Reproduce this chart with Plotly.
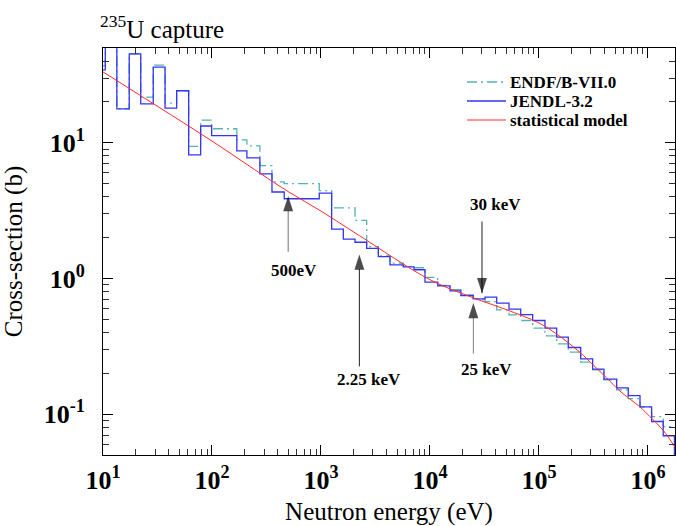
import numpy as np
import plotly.graph_objects as go

# Multigroup energy boundaries (eV)
group_edges = [10, 10.5, 13.4, 17.4, 22.2, 28.9, 37.1, 47.4, 61.1, 78.7,
               99.3, 169, 209, 275, 355, 460, 964, 1253, 1603, 2052,
               2625, 3358, 4297, 5690, 7130, 9000, 11780, 15250, 19230, 24930,
               31960, 40930, 53090, 67950, 87510, 113500, 145300, 185700, 241400, 310700,
               394500, 516000, 659600, 845000, 1.08e6, 1.38e6, 1.75e6]

# Group-averaged capture cross sections (b)
jendl_sigma = [34.5, 70, 17.8, 45.3, 19.4, 36.1, 18.0, 24.2, 8.16, 13.3,
               11.3, 8.73, 7.75, 5.91, 4.34, 3.87, 4.26, 2.31, 1.95, 1.85,
               1.67, 1.45, 1.26, 1.22, 1.16, 0.94, 0.883, 0.811, 0.749, 0.708,
               0.729, 0.659, 0.595, 0.541, 0.490, 0.430, 0.370, 0.310, 0.256, 0.215,
               0.181, 0.156, 0.137, 0.113, 0.0883, 0.0693]
jendl_tail = 0.04

endf_sigma = [36.9, 70, 17.8, 45.3, 21.7, 37.4, 19.6, 24.2, 9.4, 14.7,
              12.7, 10.5, 9.5, 6.8, 5.16, 5.0, 4.45, 3.32, 3.32, 2.68,
              1.72, 1.47, 1.30, 1.23, 1.20, 1.02, 0.89, 0.826, 0.755, 0.70,
              0.676, 0.587, 0.54, 0.49, 0.43, 0.378, 0.33, 0.287, 0.242, 0.212,
              0.179, 0.151, 0.130, 0.113, 0.096, 0.081]
endf_end_energy = 1.77e6

# Statistical-model curve
model_energy = [10, 100, 275, 500, 1000, 2250, 10000, 25000, 50000, 100000,
                145000, 238000, 315000, 418000, 553000, 845000, 1.04e6, 1.38e6, 1.77e6]
model_sigma = [33.3, 10.3, 5.98, 4.37, 3.14, 2.07, 0.98, 0.72, 0.59, 0.47,
               0.39, 0.285, 0.23, 0.185, 0.148, 0.113, 0.096, 0.076, 0.057]

# Marked energies with arrow tip / tail cross sections (b)
markers_label = ["500eV", "2.25 keV", "25 keV", "30 keV"]
markers_energy = [500, 2250, 25000, 30000]
markers_tip = [4.06, 1.50, 0.659, 0.78]
markers_tail = [1.575, 0.225, 0.279, 2.63]

# Axis ticks
x_decades = [1, 2, 3, 4, 5, 6]
y_decades = [-2, -1, 0, 1]
x_tickvals = [10.0 ** d for d in x_decades]
x_ticktext = ["10<sup>%d</sup>" % d for d in x_decades]
y_tickvals = [10.0 ** d for d in y_decades[1:]]
y_ticktext = ["10<sup>%d</sup>" % d for d in y_decades[1:]]
x_minor = [m * 10.0 ** d for d in x_decades for m in range(2, 10)]
y_minor = [m * 10.0 ** d for d in y_decades for m in range(2, 10)]

series_names = ["ENDF/B-VII.0", "JENDL-3.2", "statistical model"]
series_colors = ["#55b3b3", "#3434f4", "#ff2a2a"]
series_dash = ["10px,4px,2px,4px", "solid", "solid"]
series_width = [1.3, 1.3, 1.0]

FONT = "Liberation Serif"
W, H = 676, 526
L, R, T, B = 103, 1, 48, 71
plot_w, plot_h = W - L - R, H - T - B

fig = go.Figure()

# ENDF/B-VII.0 step histogram
fig.add_trace(go.Scatter(
    x=group_edges[:-1] + [endf_end_energy],
    y=endf_sigma + [endf_sigma[-1]],
    mode="lines", line_shape="hv", name=series_names[0],
    line=dict(color=series_colors[0], width=series_width[0], dash=series_dash[0]),
    showlegend=False))

# JENDL-3.2 step histogram
fig.add_trace(go.Scatter(
    x=group_edges[:-1] + [group_edges[-1]],
    y=jendl_sigma + [jendl_tail],
    mode="lines", line_shape="hv", name=series_names[1],
    line=dict(color=series_colors[1], width=series_width[1]),
    showlegend=False))

# statistical model
fig.add_trace(go.Scatter(
    x=model_energy, y=model_sigma, mode="lines", line_shape="spline",
    name=series_names[2],
    line=dict(color=series_colors[2], width=series_width[2]),
    showlegend=False))

# arrows marking the energies
text_offsets = [(6, -19), (10, -13), (13, -16), (14, 17)]
shaft_colors = ["#707070", "#202020", "#808080", "#202020"]
for lab, e, tip, tail, (dx, dy), sc in zip(markers_label, markers_energy, markers_tip,
                                           markers_tail, text_offsets, shaft_colors):
    up = tip > tail
    fig.add_trace(go.Scatter(
        x=[e, e], y=[tail, tip], mode="lines+markers",
        line=dict(color=sc, width=1),
        marker=dict(symbol="arrow", size=[0, 16], color="black",
                    angle=0 if up else 180, line=dict(width=0)),
        showlegend=False, hoverinfo="skip"))
    fig.add_annotation(
        x=np.log10(e), y=np.log10(tail), xref="x", yref="y",
        text="<b>%s</b>" % lab, showarrow=False,
        xshift=dx, yshift=dy, xanchor="center", yanchor="middle",
        font=dict(family=FONT, size=17, color="black"))

# legend drawn in the upper right
def px_to_paper_x(px):
    return (px - L) / plot_w

def px_to_paper_y(py):
    return 1 - (py - T) / plot_h

legend_rows = [82, 101, 120]
for name, col, dash, wd, row in zip(series_names, series_colors, series_dash,
                                    series_width, legend_rows):
    fig.add_shape(type="line", xref="paper", yref="paper",
                  x0=px_to_paper_x(467), x1=px_to_paper_x(506),
                  y0=px_to_paper_y(row), y1=px_to_paper_y(row),
                  line=dict(color=col, width=wd, dash=dash))
    fig.add_annotation(xref="paper", yref="paper",
                       x=px_to_paper_x(508), y=px_to_paper_y(row),
                       xanchor="left", yanchor="middle", showarrow=False,
                       text="<b>%s</b>" % name,
                       font=dict(family=FONT, size=17, color="black"))

# title
fig.add_annotation(xref="paper", yref="paper", x=0, y=1, xshift=-5, yshift=3,
                   xanchor="left", yanchor="bottom", showarrow=False,
                   text="<sup>235</sup>U capture",
                   font=dict(family=FONT, size=25, color="black"))

axis_common = dict(
    type="log", showgrid=False, zeroline=False,
    showline=True, linecolor="black", linewidth=1, mirror="ticks",
    ticks="inside", ticklen=10, tickwidth=1, tickcolor="black",
    tickmode="array",
    tickfont=dict(family=FONT, size=26, color="black", weight="bold"),
)
minor_common = dict(ticks="inside", ticklen=6, tickwidth=1, tickcolor="#333333",
                    tickmode="array")

fig.update_layout(
    width=W, height=H,
    margin=dict(l=L, r=R, t=T, b=B, autoexpand=False),
    paper_bgcolor="white", plot_bgcolor="white",
    xaxis=dict(range=[1, 6.248], tickvals=x_tickvals, ticktext=x_ticktext,
               minor=dict(tickvals=x_minor, **minor_common),
               title=dict(text="Neutron energy (eV)", standoff=12,
                          font=dict(family=FONT, size=25, color="black")),
               ticklabelstandoff=2, **axis_common),
    yaxis=dict(range=[np.log10(0.05), np.log10(50)],
               tickvals=y_tickvals, ticktext=y_ticktext,
               minor=dict(tickvals=y_minor, **minor_common),
               title=dict(text="Cross-section (b)", standoff=14,
                          font=dict(family=FONT, size=25, color="black")),
               ticklabelstandoff=12, **axis_common),
)

fig.write_html("out.html")
